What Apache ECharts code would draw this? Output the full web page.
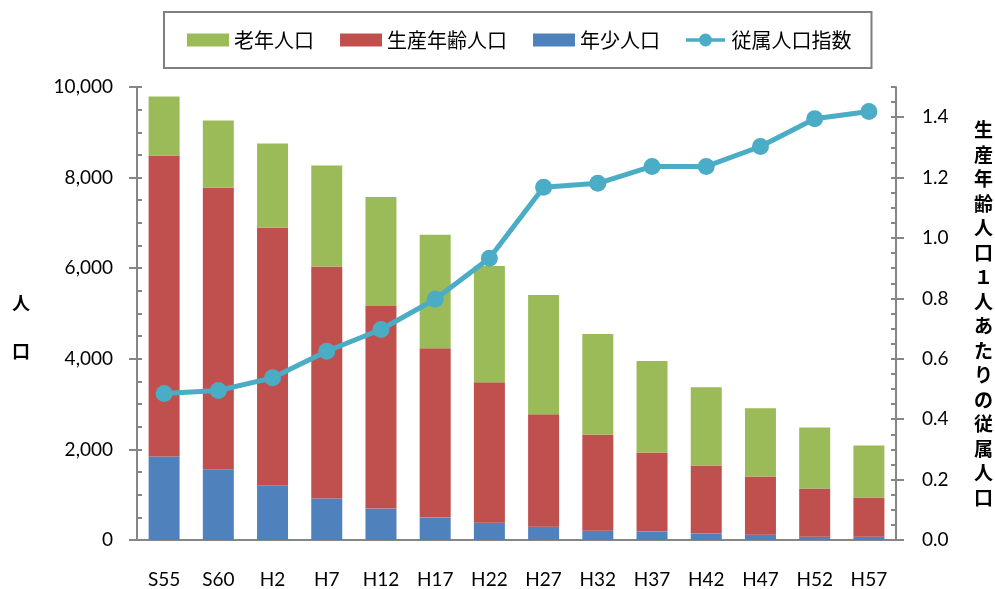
<!DOCTYPE html>
<html>
<head>
<meta charset="utf-8">
<script src="https://cdn.jsdelivr.net/npm/echarts@6/dist/echarts.min.js"></script>
<style>
  html, body { margin: 0; padding: 0; background: #fff; }
  #chart { width: 995px; height: 589px; }
</style>
</head>
<body>
<div id="chart"></div>
<script>
// 年次
var categories = ['S55', 'S60', 'H2', 'H7', 'H12', 'H17', 'H22', 'H27', 'H32', 'H37', 'H42', 'H47', 'H52', 'H57'];
// 年少人口・生産年齢人口・老年人口（人）
var youngPop = [1845, 1563, 1209, 914, 693, 494, 383, 295, 206, 191, 147, 117, 73, 73];
var workingPop = [6641, 6214, 5683, 5121, 4472, 3741, 3100, 2479, 2125, 1742, 1498, 1284, 1063, 863];
var oldPop = [1306, 1483, 1862, 2232, 2406, 2502, 2567, 2634, 2217, 2017, 1729, 1506, 1350, 1152];
// 従属人口指数
var dependencyRatio = [0.485, 0.495, 0.537, 0.625, 0.697, 0.797, 0.933, 1.168, 1.181, 1.237, 1.237, 1.303, 1.395, 1.419];
// 目盛
var leftTicks = [0, 2000, 4000, 6000, 8000, 10000];
var rightTicks = [0, 0.2, 0.4, 0.6, 0.8, 1.0, 1.2, 1.4];

var axisGray = '#868686';
var numFont = 'Lato, "Noto Sans CJK JP", sans-serif';
var jpFont = '"Noto Sans CJK JP", sans-serif';
// 凡例の線＋丸マーカー
var lineIcon = 'path://M0,5H42V9H0Z M14,7a7,7 0 1,1 14,0a7,7 0 1,1 -14,0Z';

var myChart = echarts.init(document.getElementById('chart'));

var option = {
  animation: false,
  grid: { left: 137, right: 99, top: 87, bottom: 49 },
  legend: {
    left: 164,
    top: 12,
    padding: [18, 20, 18, 23],
    borderColor: '#7f7f7f',
    borderWidth: 2,
    itemWidth: 42,
    itemHeight: 13,
    itemGap: 26,
    textStyle: { fontSize: 20, color: '#000', fontFamily: jpFont },
    data: [
      { name: '老年人口', icon: 'rect' },
      { name: '生産年齢人口', icon: 'rect' },
      { name: '年少人口', icon: 'rect' },
      { name: '従属人口指数', icon: lineIcon }
    ]
  },
  xAxis: {
    type: 'category',
    data: categories,
    axisLine: { lineStyle: { color: axisGray, width: 2 } },
    axisTick: { length: 8, lineStyle: { color: axisGray, width: 2 } },
    axisLabel: { margin: 30, fontSize: 19, color: '#000', fontFamily: numFont }
  },
  yAxis: [
    {
      type: 'value', position: 'left', min: 0, max: 10000,
      axisLine: { show: true, lineStyle: { color: axisGray, width: 2 } },
      axisTick: { show: true, length: 8, customValues: leftTicks, lineStyle: { color: axisGray, width: 2 } },
      axisLabel: {
        margin: 24, fontSize: 19, color: '#000', fontFamily: numFont,
        customValues: leftTicks,
        formatter: function (v) { return v.toLocaleString('en-US'); }
      },
      splitLine: { show: false }
    },
    {
      type: 'value', position: 'right', min: 0, max: 1.5,
      axisLine: { show: true, lineStyle: { color: axisGray, width: 2 } },
      axisTick: { show: true, length: 8, customValues: rightTicks, lineStyle: { color: axisGray, width: 2 } },
      axisLabel: {
        margin: 26, fontSize: 19, color: '#000', fontFamily: numFont,
        customValues: rightTicks,
        formatter: function (v) { return v.toFixed(1); }
      },
      splitLine: { show: false }
    },
    // 補助目盛（内側）
    {
      type: 'value', position: 'left', min: 0, max: 10000, interval: 500,
      axisLine: { show: false },
      axisTick: { show: true, inside: true, length: 5, lineStyle: { color: axisGray, width: 2 } },
      axisLabel: { show: false },
      splitLine: { show: false }
    },
    {
      type: 'value', position: 'right', min: 0, max: 1.5, interval: 0.05,
      axisLine: { show: false },
      axisTick: { show: true, inside: true, length: 5, lineStyle: { color: axisGray, width: 2 } },
      axisLabel: { show: false },
      splitLine: { show: false }
    }
  ],
  graphic: [
    {
      type: 'text', left: 12, top: 279,
      style: { text: '人\n口', lineHeight: 48, fill: '#000', font: 'bold 18px "Noto Sans CJK JP"' }
    },
    {
      type: 'text', left: 974, top: 118,
      style: {
        text: '生産年齢人口１人あたりの従属人口'.split('').join('\n'),
        lineHeight: 24.5, fill: '#000', font: 'bold 19px "Noto Sans CJK JP"'
      }
    }
  ],
  series: [
    {
      name: '年少人口', type: 'bar', stack: 'pop', barWidth: 31,
      itemStyle: { color: '#4F81BD' }, data: youngPop
    },
    {
      name: '生産年齢人口', type: 'bar', stack: 'pop', barWidth: 31,
      itemStyle: { color: '#C0504D' }, data: workingPop
    },
    {
      name: '老年人口', type: 'bar', stack: 'pop', barWidth: 31,
      itemStyle: { color: '#9BBB59' }, data: oldPop
    },
    {
      name: '従属人口指数', type: 'line', yAxisIndex: 1, z: 5,
      symbol: 'circle', symbolSize: 17,
      lineStyle: { color: '#4BACC6', width: 5 },
      itemStyle: { color: '#4BACC6' },
      data: dependencyRatio
    }
  ]
};

myChart.setOption(option);
</script>
</body>
</html>
